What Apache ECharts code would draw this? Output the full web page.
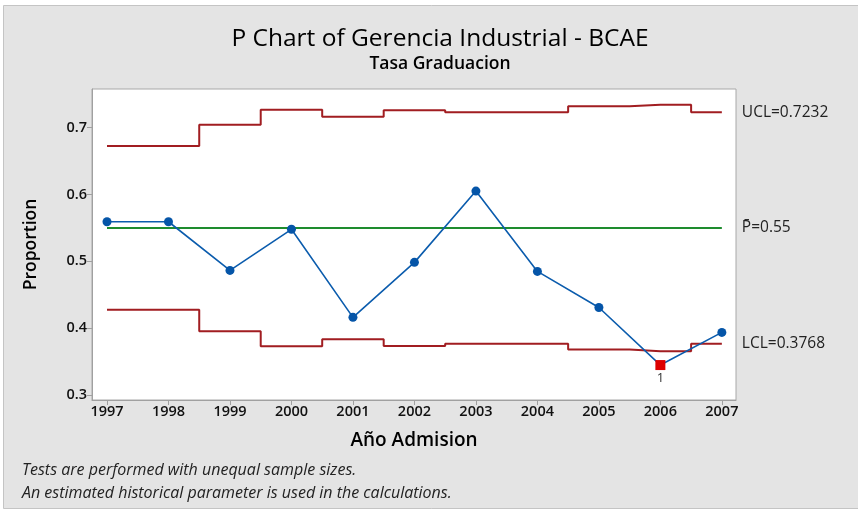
<!DOCTYPE html>
<html>
<head>
    <meta charset="utf-8">
    <title>P Chart</title>
    <script src="https://cdn.jsdelivr.net/npm/echarts@6/dist/echarts.min.js"></script>
    <style>
        body { margin: 0; background: #fff; }
    </style>
</head>
<body>
    <div id="main" style="width: 858px;height:518px;"></div>
    <script type="text/javascript">
        // años de admision
        var years = [1997, 1998, 1999, 2000, 2001, 2002, 2003, 2004, 2005, 2006, 2007];
        // proporcion de graduados
        var proportion = [0.5593, 0.5593, 0.4865, 0.548, 0.4162, 0.4985, 0.6052, 0.485, 0.431, 0.3448, 0.3937];
        // limites de control
        var ucl = [0.6726, 0.6726, 0.7045, 0.7270, 0.7165, 0.7262, 0.7232, 0.7232, 0.7320, 0.7345, 0.7232];
        var lcl = [0.4274, 0.4274, 0.3955, 0.3730, 0.3835, 0.3735, 0.3768, 0.3768, 0.3680, 0.3655, 0.3768];
        var pbar = 0.55;
        var yTicks = [0.3, 0.4, 0.5, 0.6, 0.7];
        var failed = [2006];

        var font = '"Open Sans", "Noto Sans", sans-serif';
        var myChart = echarts.init(document.getElementById('main'));

        function pairs(vals) {
            return years.map(function (y, i) { return [y, vals[i]]; });
        }

        var pData = years.map(function (y, i) {
            if (failed.indexOf(y) >= 0) {
                return {
                    value: [y, proportion[i]],
                    symbol: 'rect',
                    symbolSize: 10,
                    itemStyle: { color: '#dd0000' },
                    label: { show: true, position: 'bottom', distance: 2, formatter: '1', color: '#333', fontSize: 13, fontFamily: font }
                };
            }
            return [y, proportion[i]];
        });

        var limitLabel = { show: true, distance: 20, color: '#222', fontSize: 15.5 };

        var option = {
            animation: false,
            textStyle: { fontFamily: font },
            title: {
                text: 'P Chart of Gerencia Industrial - BCAE',
                subtext: 'Tasa Graduacion',
                left: 435,
                textAlign: 'center',
                top: 22,
                itemGap: 3,
                textStyle: { fontSize: 24.5, fontWeight: 'normal', color: '#000', fontFamily: font },
                subtextStyle: { fontSize: 17.5, fontWeight: 600, color: '#000', fontFamily: font }
            },
            graphic: [
                {
                    type: 'rect', z: -10, silent: true,
                    shape: { x: 3.5, y: 5.5, width: 860, height: 503 },
                    style: { fill: '#e4e4e4', stroke: '#c4c4c4', lineWidth: 1 }
                },
                {
                    type: 'text', left: 22, top: 462,
                    style: { text: 'Tests are performed with unequal sample sizes.', font: 'italic 16px ' + font, fill: '#222' }
                },
                {
                    type: 'text', left: 22, top: 485,
                    style: { text: 'An estimated historical parameter is used in the calculations.', font: 'italic 16px ' + font, fill: '#222' }
                }
            ],
            grid: {
                left: 92, top: 89, right: 122, bottom: 118,
                show: true,
                backgroundColor: '#fff',
                borderColor: '#a8a8a8',
                borderWidth: 1
            },
            xAxis: {
                type: 'value',
                min: 1996.756,
                max: 2007.23,
                name: 'Año Admision',
                nameLocation: 'middle',
                nameGap: 31,
                nameTextStyle: { fontSize: 19, fontWeight: 600, color: '#000' },
                splitLine: { show: false },
                axisLine: { show: true, lineStyle: { color: '#a0a0a0' } },
                axisTick: { show: true, length: 5, customValues: years, lineStyle: { color: '#a0a0a0' } },
                axisLabel: {
                    customValues: years,
                    formatter: function (v) { return String(Math.round(v)); },
                    fontSize: 14.5, fontWeight: 600, color: '#111', margin: 4
                }
            },
            yAxis: {
                type: 'value',
                min: 0.2925,
                max: 0.758,
                name: 'Proportion',
                nameLocation: 'middle',
                nameGap: 52,
                nameRotate: 90,
                nameTextStyle: { fontSize: 17.5, fontWeight: 600, color: '#000' },
                splitLine: { show: false },
                axisLine: { show: true, lineStyle: { color: '#a0a0a0' } },
                axisTick: { show: true, length: 5, customValues: yTicks, lineStyle: { color: '#a0a0a0' } },
                axisLabel: {
                    customValues: yTicks,
                    formatter: function (v) { return v.toFixed(1); },
                    fontSize: 14.5, fontWeight: 600, color: '#111', margin: 5
                }
            },
            series: [
                {
                    name: 'UCL', type: 'line', step: 'middle', symbol: 'none',
                    data: pairs(ucl),
                    lineStyle: { color: '#a11d21', width: 2 },
                    endLabel: Object.assign({ formatter: function () { return 'UCL=0.7232'; } }, limitLabel)
                },
                {
                    name: 'LCL', type: 'line', step: 'middle', symbol: 'none',
                    data: pairs(lcl),
                    lineStyle: { color: '#a11d21', width: 2 },
                    endLabel: Object.assign({ formatter: function () { return 'LCL=0.3768'; } }, limitLabel)
                },
                {
                    name: 'P', type: 'line', symbol: 'none',
                    data: years.map(function (y) { return [y, pbar]; }),
                    lineStyle: { color: '#1e8c2e', width: 2 },
                    endLabel: Object.assign({ formatter: function () { return 'P\u0304=0.55'; } }, limitLabel)
                },
                {
                    name: 'Proportion', type: 'line', symbol: 'circle', symbolSize: 9,
                    data: pData,
                    z: 5,
                    itemStyle: { color: '#0555a8' },
                    lineStyle: { color: '#0b5cad', width: 1.6 }
                }
            ]
        };

        myChart.setOption(option);
    </script>
</body>
</html>
